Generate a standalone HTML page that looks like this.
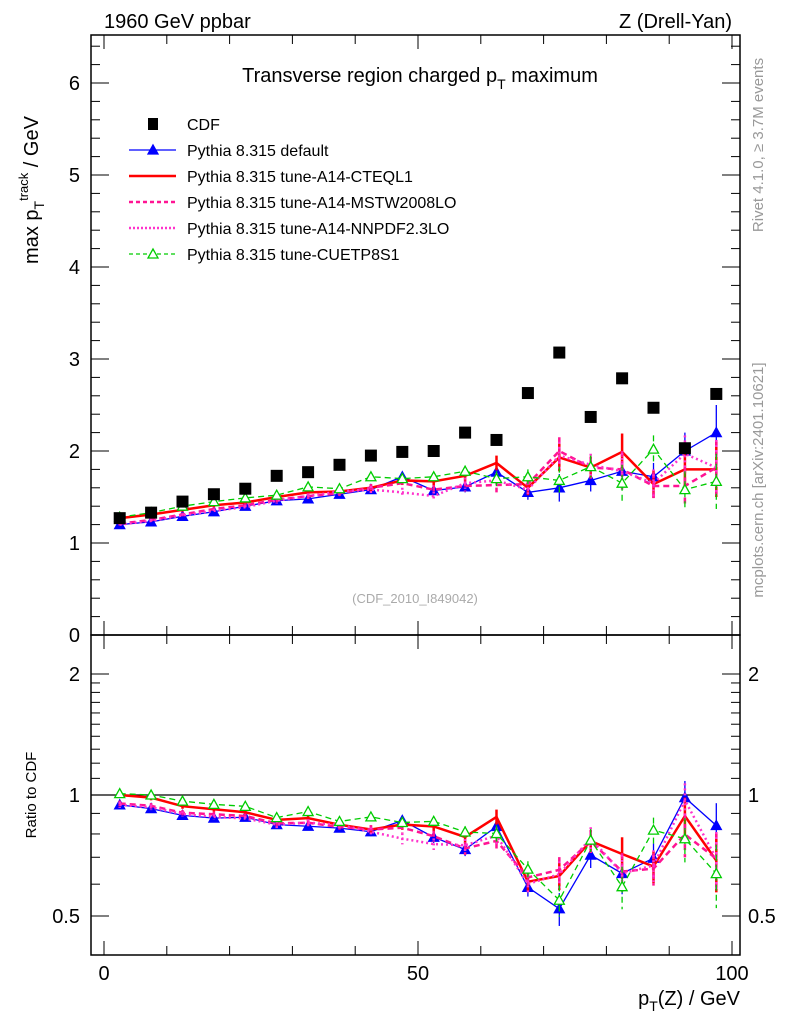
<!DOCTYPE html>
<html><head><meta charset="utf-8"><style>
body{margin:0;background:#fff;font-family:"Liberation Sans",sans-serif}
svg text{font-family:"Liberation Sans",sans-serif}
</style></head><body>
<svg id="c" width="786" height="1024" viewBox="0 0 786 1024" xmlns="http://www.w3.org/2000/svg">
<rect width="786" height="1024" fill="#fff"/>
<text x="104" y="28" font-size="20">1960 GeV ppbar</text>
<text x="732" y="28" font-size="20" text-anchor="end">Z (Drell-Yan)</text>
<text x="420" y="82" font-size="20" text-anchor="middle">Transverse region charged p<tspan font-size="14" dy="7">T</tspan><tspan dy="-7"> maximum</tspan></text>
<text transform="translate(38,190) rotate(-90)" font-size="20" text-anchor="middle">max p<tspan font-size="14" dy="6">T</tspan><tspan font-size="13" dy="-16">track</tspan><tspan dy="10"> / GeV</tspan></text>
<text transform="translate(36,795) rotate(-90)" font-size="15" text-anchor="middle">Ratio to CDF</text>
<text x="740" y="1005" font-size="20" text-anchor="end">p<tspan font-size="14" dy="6">T</tspan><tspan dy="-6">(Z) / GeV</tspan></text>
<text transform="translate(763,145) rotate(-90)" font-size="15" fill="#999" text-anchor="middle">Rivet 4.1.0, ≥ 3.7M events</text>
<text transform="translate(763,480) rotate(-90)" font-size="15" fill="#999" text-anchor="middle">mcplots.cern.ch [arXiv:2401.10621]</text>
<text x="415" y="603" font-size="13" fill="#aaa" text-anchor="middle">(CDF_2010_I849042)</text>
<g id="g"></g>
</svg>
<script>
const xs=[2.5,7.5,12.5,17.5,22.5,27.5,32.5,37.5,42.5,47.5,52.5,57.5,62.5,67.5,72.5,77.5,82.5,87.5,92.5,97.5];
const cdf=[1.27,1.33,1.45,1.53,1.59,1.73,1.77,1.85,1.95,1.99,2.00,2.20,2.12,2.63,3.07,2.37,2.79,2.47,2.03,2.62];
const def=[1.20,1.23,1.29,1.34,1.40,1.46,1.48,1.53,1.58,1.72,1.57,1.61,1.77,1.55,1.60,1.68,1.78,1.72,2.00,2.20];
const cteq=[1.27,1.31,1.36,1.41,1.44,1.50,1.55,1.56,1.60,1.68,1.67,1.73,1.87,1.60,1.93,1.82,1.99,1.64,1.80,1.80];
const mstw=[1.21,1.25,1.31,1.37,1.41,1.47,1.51,1.54,1.60,1.65,1.58,1.62,1.63,1.64,2.00,1.82,1.80,1.62,1.62,1.82];
const nnpdf=[1.20,1.24,1.30,1.35,1.39,1.46,1.51,1.56,1.58,1.55,1.51,1.65,1.68,1.58,1.95,1.85,1.78,1.65,1.97,1.82];
const cuetp=[1.28,1.33,1.40,1.45,1.49,1.52,1.61,1.59,1.72,1.70,1.72,1.78,1.70,1.72,1.68,1.83,1.65,2.02,1.58,1.67];
const errs=[0.02,0.02,0.02,0.02,0.02,0.03,0.03,0.03,0.04,0.05,0.05,0.06,0.08,0.08,0.15,0.12,0.2,0.15,0.2,0.3];
const mainTicks=[0,1,2,3,4,5,6];
const ratioTicks=[0.5,1,2];
const xTicks=[0,50,100];

const NS="http://www.w3.org/2000/svg",g=document.getElementById('g');
const L=91,R=740,T=35,M=635,B=955;
const X=v=>104+6.28*v, Y=v=>635-92*v, YR=v=>795-121*Math.log2(v);
function el(t,a,p){const e=document.createElementNS(NS,t);for(const k in a)e.setAttribute(k,a[k]);(p||g).appendChild(e);return e;}
let f=el('rect',{x:L,y:T,width:R-L,height:M-T,fill:'none',stroke:'#000','stroke-width':1.5});


f=el('rect',{x:L,y:M,width:R-L,height:B-M,fill:'none',stroke:'#000','stroke-width':1.5});


for(let v=0;v<=100;v+=2){const big=v%50==0,mid=v%10==0;const l=big?14:(mid?9:0);if(!l)continue;
 for(const [y0,d] of [[M,-1],[T,1],[B,-1],[M,1]]) el('line',{x1:X(v),x2:X(v),y1:y0,y2:y0+d*l,stroke:'#000'});}
xTicks.forEach(v=>{const t=el('text',{x:X(v),y:980,'font-size':20,'text-anchor':'middle'});t.textContent=v;

});
for(let i=0;i<=32;i++){const v=i*0.2;const y=Y(v);if(y<T)break;const l=i%5==0?18:9;
 el('line',{x1:L,x2:L+l,y1:y,y2:y,stroke:'#000'});el('line',{x1:R,x2:R-l,y1:y,y2:y,stroke:'#000'});}
mainTicks.forEach(v=>{const t=el('text',{x:80,y:Y(v)+7,'font-size':20,'text-anchor':'end'});t.textContent=v;

});
const rminor=[0.5,0.6,0.7,0.8,0.9,1,1.1,1.2,1.3,1.4,1.5,1.6,1.7,1.8,1.9,2];
rminor.forEach(v=>{const y=YR(v);const l=ratioTicks.includes(v)?18:9;
 el('line',{x1:L,x2:L+l,y1:y,y2:y,stroke:'#000'});el('line',{x1:R,x2:R-l,y1:y,y2:y,stroke:'#000'});});
ratioTicks.forEach(v=>{for(const x of [80,748]){const t=el('text',{x:x,y:YR(v)+7,'font-size':20,'text-anchor':x==80?'end':'start'});t.textContent=v;

}});
el('line',{x1:L,x2:R,y1:YR(1),y2:YR(1),stroke:'#000','stroke-width':1.2});
const series=[
 {n:'default',d:def,c:'#0000ff',w:1.3,da:'',m:'tri'},
 {n:'cteql1',d:cteq,c:'#ff0000',w:2.5,da:'',m:''},
 {n:'mstw2008lo',d:mstw,c:'#ff1493',w:2.5,da:'6,4',m:''},
 {n:'nnpdf23lo',d:nnpdf,c:'#ff33cc',w:2.5,da:'2,3',m:''},
 {n:'cuetp8s1',d:cuetp,c:'#00cc00',w:1.3,da:'6,4',m:'otri'}];
function tri(x,y,c,fill,p){return el('polygon',{points:`${x},${y-5} ${x-5},${y+4} ${x+5},${y+4}`,fill:fill?c:'#fff',stroke:c,'stroke-width':1.3},p);}
series.forEach((s,si)=>{
 for(const ratio of [false,true]){
  const gg=el('g',{});
  
  
  const yv=(i)=>ratio?YR(s.d[i]/cdf[i]):Y(s.d[i]);
  const ye=(i,k)=>ratio?YR((s.d[i]+k*errs[i])/cdf[i]):Y(s.d[i]+k*errs[i]);
  xs.forEach((x,i)=>el('line',{x1:X(x),x2:X(x),y1:ye(i,1),y2:ye(i,-1),stroke:s.c,'stroke-width':s.w>2?2.5:1.3,'stroke-dasharray':s.da},gg));
  el('polyline',{points:xs.map((x,i)=>X(x)+','+yv(i)).join(' '),fill:'none',stroke:s.c,'stroke-width':s.w,'stroke-dasharray':s.da},gg);
  if(s.m)xs.forEach((x,i)=>{const t=tri(X(x),yv(i),s.c,s.m=='tri',gg);
   
   });
 }
});
xs.forEach((x,i)=>{const r=el('rect',{x:X(x)-6,y:Y(cdf[i])-6,width:12,height:12,fill:'#000'});

});
const leg=[['CDF','#000','','sq',0],['Pythia 8.315 default','#0000ff','','tri',1.3],['Pythia 8.315 tune-A14-CTEQL1','#ff0000','','',2.5],
['Pythia 8.315 tune-A14-MSTW2008LO','#ff1493','4,3','',2.5],['Pythia 8.315 tune-A14-NNPDF2.3LO','#ff33cc','2,2','',2.5],['Pythia 8.315 tune-CUETP8S1','#00cc00','4,3','otri',1.3]];
leg.forEach((l,i)=>{const y=124+26*i;const lg=el('g',{});
 
 
 if(l[3]=='sq')el('rect',{x:148,y:y-6,width:10,height:12,fill:'#000'},lg);
 else el('line',{x1:129,x2:176,y1:y,y2:y,stroke:l[1],'stroke-width':l[4],'stroke-dasharray':l[2]},lg);
 if(l[3]=='tri'||l[3]=='otri')tri(153,y,l[1],l[3]=='tri',lg);
 const t=el('text',{x:187,y:y+6,'font-size':16},lg);t.textContent=l[0];});
</script>
</body></html>
